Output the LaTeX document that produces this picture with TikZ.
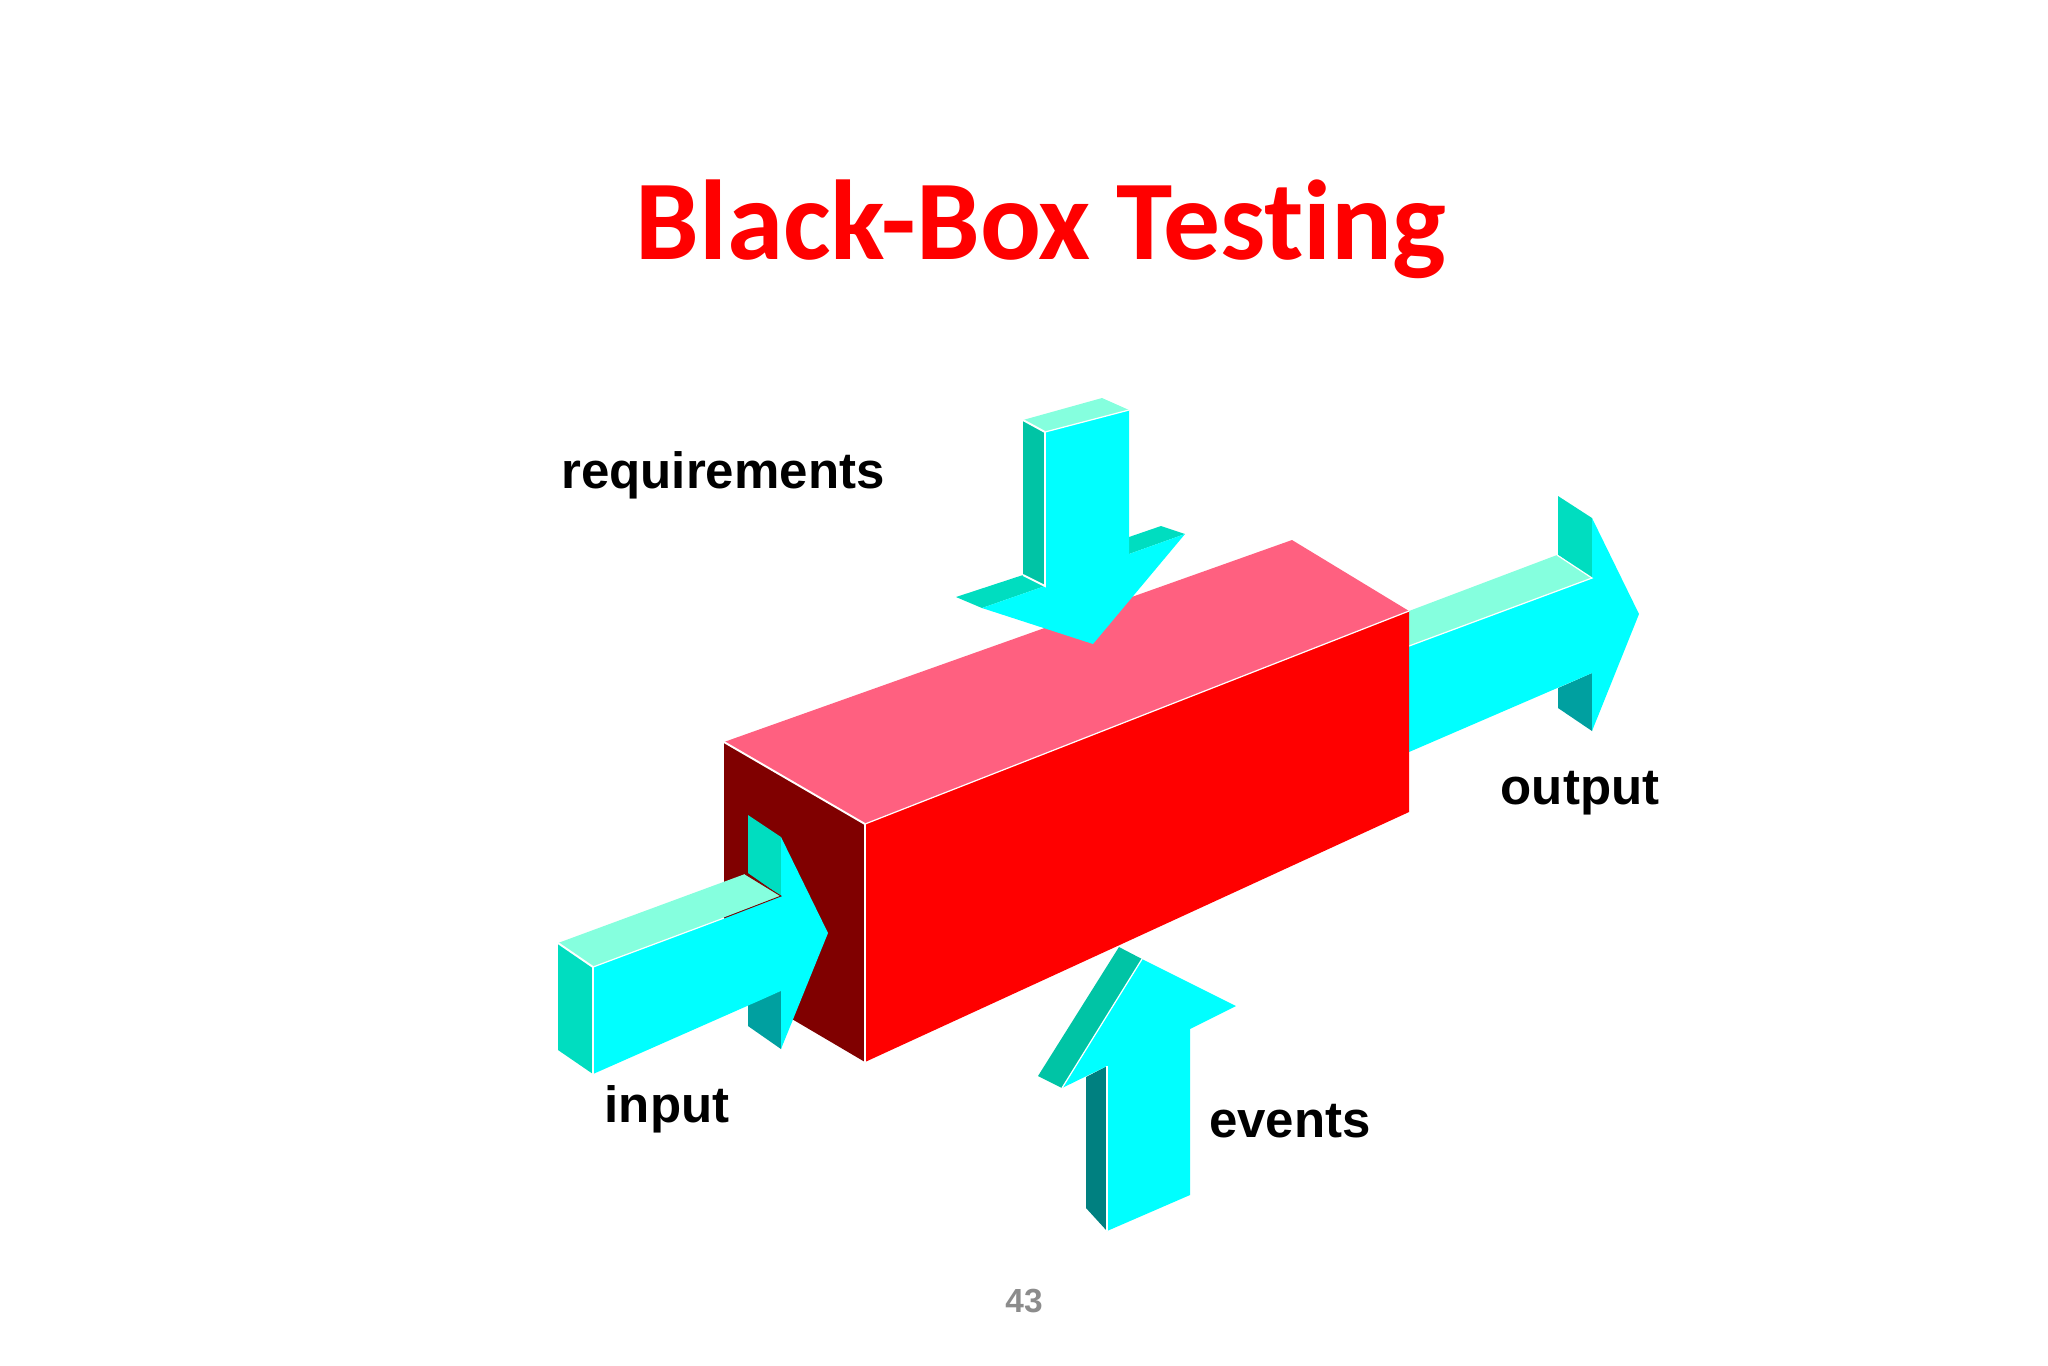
\documentclass[tikz,border=0pt]{standalone}
\usepackage{fontspec}
\setmainfont{Liberation Sans}
\newfontfamily\titlefont[Ligatures=NoCommon]{Carlito}
\definecolor{boxfront}{HTML}{FF0000}
\definecolor{boxtop}{HTML}{FF6080}
\definecolor{boxside}{HTML}{800000}
\definecolor{arrowfront}{HTML}{00FFFF}
\definecolor{arrowtop}{HTML}{85FFDE}
\definecolor{arrowfin}{HTML}{00DDC0}
\definecolor{arrowdeep}{HTML}{00C4A5}
\definecolor{arrowlow}{HTML}{00A0A0}
\definecolor{arrowdark}{HTML}{008080}
\tikzset{
  edgeline/.style={white,line width=0.55pt},
  thinline/.style={white,line width=0.35pt},
  gapline/.style={boxside,line width=0.25pt},
  labeltext/.style={font=\fontsize{14.5}{16}\selectfont\bfseries,text=black,inner sep=0pt,anchor=base}
}
\begin{document}
\begin{tikzpicture}[x=0.01cm,y=-0.01cm]
\useasboundingbox (0,0) rectangle (2048,1365);
\fill[white] (0,0) rectangle (2048,1365);
% output
\fill[arrowfin] (1558,496) -- (1592,518) -- (1592,578) -- (1558,555) -- cycle;
\fill[arrowlow] (1558,688) -- (1592,673) -- (1592,731) -- (1558,708) -- cycle;
\fill[arrowtop] (1409,611) -- (1557,555) -- (1592,578) -- (1409,646) -- cycle;
\fill[arrowfront] (1409,646) -- (1592,578) -- (1592,518) -- (1639,614) -- (1592,731) -- (1592,673) -- (1409,752) -- cycle;
\draw[thinline] (1409,646) -- (1592,578) -- (1557,555);
% box
\fill[boxside] (724,742) -- (865,824) -- (865,1062) -- (724,979) -- cycle;
\fill[boxtop] (724,742) -- (1292,540) -- (1409,611) -- (865,824) -- cycle;
\fill[boxfront] (865,824) -- (1409,611) -- (1409,812) -- (865,1062) -- cycle;
\draw[edgeline] (724,742) -- (865,824);
\draw[thinline] (865,824) -- (1409,611);
\draw[edgeline] (865,824) -- (865,1062);
% requirements
\fill[arrowfin] (956,597) -- (1023,575) -- (1045,586) -- (982,608) -- cycle;
\fill[arrowfin] (1129,537) -- (1161,526) -- (1185,534) -- (1129,554) -- cycle;
\fill[arrowtop] (1023,420) -- (1102,398) -- (1129,410) -- (1045,432) -- cycle;
\fill[arrowdeep] (1023,420) -- (1045,432) -- (1045,586) -- (1023,575) -- cycle;
\fill[arrowfront] (1045,432) -- (1129,410) -- (1129,554) -- (1185,534) -- (1093,644) -- (982,608) -- (1045,586) -- cycle;
\draw[thinline] (1045,432) -- (1129,410);
\draw[edgeline] (1023,420) -- (1045,432);
\draw[edgeline] (1045,432) -- (1045,586) -- (1023,575);
% events
\fill[arrowdark] (1086,1077) -- (1107,1066) -- (1107,1231) -- (1086,1208) -- cycle;
\fill[arrowdeep] (1119,947) -- (1142,959) -- (1062,1088) -- (1038,1076) -- cycle;
\fill[arrowfront] (1107,1231) -- (1190,1195) -- (1190,1029) -- (1236,1006) -- (1142,959) -- (1062,1088) -- (1107,1066) -- cycle;
\draw[thinline] (1142,959) -- (1062,1088);
\draw[thinline] (1107,1066) -- (1107,1231);
% input
\fill[arrowfin] (748,815) -- (781,837) -- (781,896) -- (748,873) -- cycle;
\fill[arrowlow] (748,1005) -- (781,991) -- (781,1049) -- (748,1026) -- cycle;
\fill[arrowfin] (558,943) -- (593,967) -- (593,1074) -- (558,1050) -- cycle;
\fill[arrowtop] (558,943) -- (745,874) -- (781,896) -- (593,967) -- cycle;
\fill[arrowfront] (593,967) -- (781,896) -- (781,837) -- (828,933) -- (781,1049) -- (781,991) -- (593,1074) -- cycle;
\draw[edgeline] (558,943) -- (593,967);
\draw[thinline] (593,967) -- (724,918);
\draw[edgeline] (593,967) -- (593,1074);
\draw[gapline] (724,918) -- (781,896) -- (745,874);
% labels
\node (titlelabel) at (1041,229) {\titlefont\fontsize{32.3}{34}\selectfont\bfseries\textcolor{red}{Black-Box Testing}};
\node[labeltext] (requirementslabel) at (723,488) {requirements};
\node[labeltext] (inputlabel) at (667,1122) {input};
\node[labeltext] (outputlabel) at (1580,804) {output};
\node[labeltext] (eventslabel) at (1290,1137) {events};
\node (pagelabel) at (1024,1301) {\fontsize{9.5}{11}\selectfont\bfseries\textcolor[HTML]{8C8C8C}{43}};
\end{tikzpicture}
\end{document}
